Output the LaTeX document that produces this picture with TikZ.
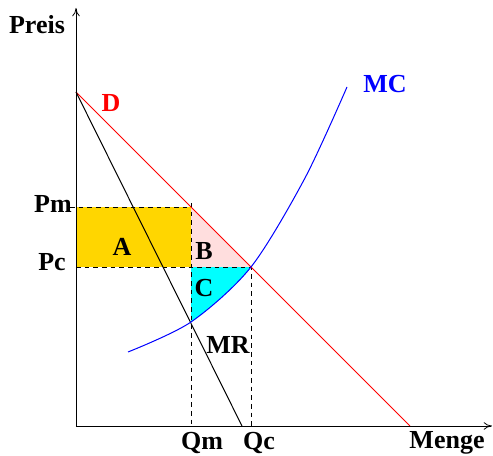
\documentclass[tikz,border=0pt]{standalone}
\usepackage{fontspec}
\setmainfont{Liberation Serif}
\usetikzlibrary{arrows.meta,positioning}
\definecolor{areaA}{RGB}{255,214,0}
\definecolor{areaB}{RGB}{255,222,222}
\definecolor{areaC}{RGB}{0,255,255}
\begin{document}
\begin{tikzpicture}[
  x=0.75pt,y=0.75pt,
  lbl/.style={font=\fontsize{19.5}{22}\selectfont\bfseries,inner sep=0pt},
  axis/.style={-{To[length=2.2mm,width=2mm]},line width=0.6pt},
  curve/.style={line width=0.75pt},
  guide/.style={dash pattern=on 3.5pt off 3pt,line width=0.6pt}
]
  \useasboundingbox (-76,-30) rectangle (417,426);

  % axes and the two demand lines
  \coordinate (O) at (0,0);
  \coordinate (ytop) at (0,418);
  \coordinate (xend) at (416,0);
  \coordinate (dtop) at (0,334);
  \coordinate (dbot) at (334,0);
  \coordinate (mrbot) at (166,0);

  % prices, quantities and the points they meet
  \coordinate (pm) at (0,219);
  \coordinate (pmtick) at (-6,219);
  \coordinate (pc) at (0,159);
  \coordinate (qm) at (115,0);
  \coordinate (qc) at (175,0);
  \coordinate (qmtop) at (115,223);
  \coordinate (mono) at (115,219);
  \coordinate (comp) at (175,159);
  \coordinate (cut) at (115,159);
  \coordinate (mcmr) at (115,104);

  % shaded areas
  \fill[areaA] (pc) rectangle (mono);
  \fill[areaB] (cut) -- (mono) -- (comp) -- cycle;
  \begin{scope}
    \clip plot[smooth] coordinates {(52,74) (115,104) (175,159) (229,248) (271,339)}
      -- (52,339) -- cycle;
    \fill[areaC] (mcmr) rectangle (comp);
  \end{scope}

  \draw[guide] (pmtick) -- (mono);
  \draw[guide] (qmtop) -- (qm);
  \draw[guide] (pc) -- (comp) -- (qc);

  \draw[red,curve] (dtop) -- (dbot);
  \draw[curve] (dtop) -- (mrbot);
  \draw[blue,curve] plot[smooth] coordinates {(52,74) (115,104) (175,159) (229,248) (271,339)};

  \draw[axis] (O) -- (ytop);
  \draw[axis] (O) -- (xend);

  % labels
  \node[lbl] (preis) at (-39,401) {Preis};
  \node[lbl] (menge) at (371,-17) {Menge};
  \node[lbl] (qmlbl) at (126,-17) {Qm};
  \node[lbl] (qclbl) at (183,-17) {Qc};
  \node[lbl] (pmlbl) at (-23,222) {Pm};
  \node[lbl] (pclbl) at (-24,164) {Pc};
  \node[lbl] (alab) at (46,179) {A};
  \node[lbl] (blab) at (128,175) {B};
  \node[lbl] (clab) at (128,138) {C};
  \node[lbl] (mrlab) at (152,81) {MR};
  \node[lbl,red] (dlab) at (35,323) {D};
  \node[lbl,blue] (mclab) at (309,342) {MC};
\end{tikzpicture}
\end{document}
